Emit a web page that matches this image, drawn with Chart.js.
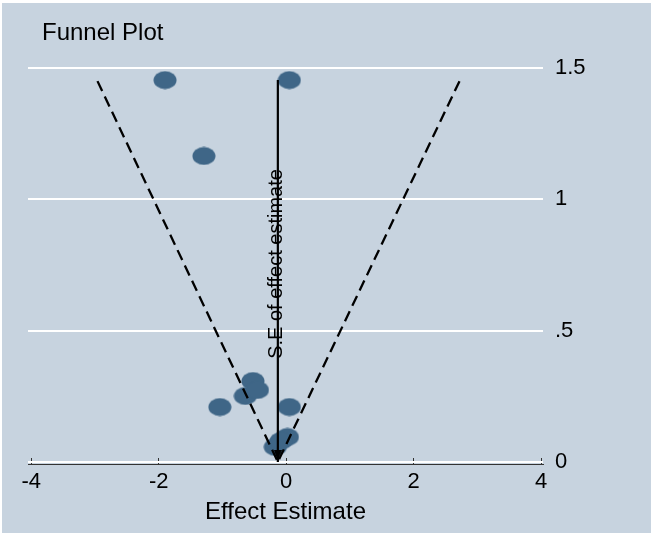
<!DOCTYPE html>
<html><head><meta charset="utf-8">
<script src="https://cdn.jsdelivr.net/npm/chart.js@4.4.0/dist/chart.umd.min.js"></script>
<style>html,body{margin:0;padding:0;background:#fff;}#wrap{width:655px;height:536px;position:relative;}</style>
</head><body><div id="wrap"><canvas id="c"></canvas></div>
<script>
// ---- data ----
const studyEffects = [-1.90, 0.05, -1.29, -0.52, -0.64, -0.45, -1.04, 0.05, 0.02, -0.17, -0.08];
const studySE      = [1.454, 1.454, 1.165, 0.308, 0.251, 0.274, 0.209, 0.209, 0.095, 0.057, 0.080];
const pooledEffect = -0.13;
const pooledLineSE = [1.454, 0];
const funnelSE     = [1.45, 0];
const funnelLeftX  = [-2.96, -0.13];
const funnelRightX = [2.72, -0.13];
const xTicks = [-4, -2, 0, 2, 4];
const yTicks = [0, 0.5, 1, 1.5];
const yTickLabels = ['0', '.5', '1', '1.5'];
const chartTitle = 'Funnel Plot';
const xTitle = 'Effect Estimate';
const yTitle = 'S.E of effect estimate';

Chart.defaults.font.family = '"Liberation Sans", Arial, Helvetica, sans-serif';
Chart.defaults.color = '#000';

// marker image: ellipse
function makeEllipse(w, h, color) {
  const c = document.createElement('canvas');
  c.width = w; c.height = h;
  const g = c.getContext('2d');
  g.fillStyle = color;
  g.beginPath(); g.ellipse(w / 2, h / 2, w / 2 - 0.5, h / 2 - 0.5, 0, 0, Math.PI * 2); g.fill();
  return c;
}
// arrowhead image: apex at image centre
function makeArrow(w, h) {
  const c = document.createElement('canvas');
  c.width = w; c.height = h * 2;
  const g = c.getContext('2d');
  g.fillStyle = '#000';
  g.beginPath(); g.moveTo(0, 0); g.lineTo(w, 0); g.lineTo(w / 2, h); g.closePath(); g.fill();
  return c;
}
const markerImg = makeEllipse(24, 19, '#3f6687');
const arrowImg = makeArrow(8, 12);

const bgPlugin = {
  id: 'bg',
  beforeDraw(chart) {
    const ctx = chart.ctx;
    ctx.save();
    ctx.fillStyle = '#ffffff';
    ctx.fillRect(0, 0, chart.width, chart.height);
    ctx.fillStyle = '#c7d3df';
    ctx.fillRect(2, 3, chart.width - 6, chart.height - 6);
    ctx.restore();
  }
};
const textPlugin = {
  id: 'texts',
  afterDatasetsDraw(chart) {
    const ctx = chart.ctx;
    const xs = chart.scales.x;
    ctx.save();
    ctx.fillStyle = '#000';
    ctx.font = '24px "Liberation Sans", Arial, sans-serif';
    ctx.textAlign = 'left';
    ctx.textBaseline = 'alphabetic';
    ctx.fillText(chartTitle, 42, 40);
    const px = xs.getPixelForValue(pooledEffect) - 1;
    ctx.translate(px, 264);
    ctx.rotate(-Math.PI / 2);
    ctx.font = '20px "Liberation Sans", Arial, sans-serif';
    ctx.textAlign = 'center';
    ctx.textBaseline = 'middle';
    ctx.fillText(yTitle, 0, 0);
    ctx.restore();
  }
};

new Chart(document.getElementById('c'), {
  type: 'scatter',
  data: {
    datasets: [
      {
        type: 'line',
        data: funnelLeftX.map((x, i) => ({x: x, y: funnelSE[i]})),
        borderColor: '#000', borderWidth: 2.3, borderDash: [11, 6],
        pointRadius: 0, fill: false, clip: false
      },
      {
        type: 'line',
        data: funnelRightX.map((x, i) => ({x: x, y: funnelSE[i]})),
        borderColor: '#000', borderWidth: 2.3, borderDash: [11, 6],
        pointRadius: 0, fill: false, clip: false
      },
      {
        type: 'line',
        data: pooledLineSE.map(s => ({x: pooledEffect, y: s})),
        borderColor: '#000', borderWidth: 2.2,
        pointRadius: [0, 6], pointStyle: arrowImg, fill: false, clip: false
      },
      {
        data: studyEffects.map((x, i) => ({x: x, y: studySE[i]})),
        pointStyle: markerImg, pointRadius: 10, clip: false
      }
    ]
  },
  options: {
    responsive: true,
    maintainAspectRatio: false,
    animation: false,
    events: [],
    layout: { padding: { left: 28, top: 68, right: 0, bottom: 0 } },
    plugins: { legend: { display: false }, tooltip: { enabled: false } },
    scales: {
      x: {
        type: 'linear', position: 'bottom',
        min: -4.05, max: 4.03,
        afterBuildTicks: s => { s.ticks = xTicks.map(v => ({value: v})); },
        afterFit: s => { s.height = 72; },
        grid: { display: true, drawOnChartArea: false, drawTicks: true, tickLength: -6, tickColor: '#333', tickWidth: 1 },
        border: { display: true, color: '#333', width: 1 },
        ticks: { font: { size: 22 }, color: '#000', padding: 11, maxRotation: 0, autoSkip: false,
                 callback: v => String(v) },
        title: { display: true, text: xTitle, font: { size: 24 }, color: '#000', padding: { top: 0, bottom: 9 } }
      },
      y: {
        type: 'linear', position: 'right',
        min: -0.008, max: 1.5,
        afterBuildTicks: s => { s.ticks = yTicks.map(v => ({value: v})); },
        afterFit: s => { s.width = 112; },
        grid: { color: '#ffffff', lineWidth: 2, drawTicks: false },
        border: { display: false },
        ticks: { font: { size: 22 }, color: '#000', padding: 12,
                 callback: v => yTickLabels[yTicks.indexOf(v)] }
      }
    }
  },
  plugins: [bgPlugin, textPlugin]
});
</script>
</body></html>
